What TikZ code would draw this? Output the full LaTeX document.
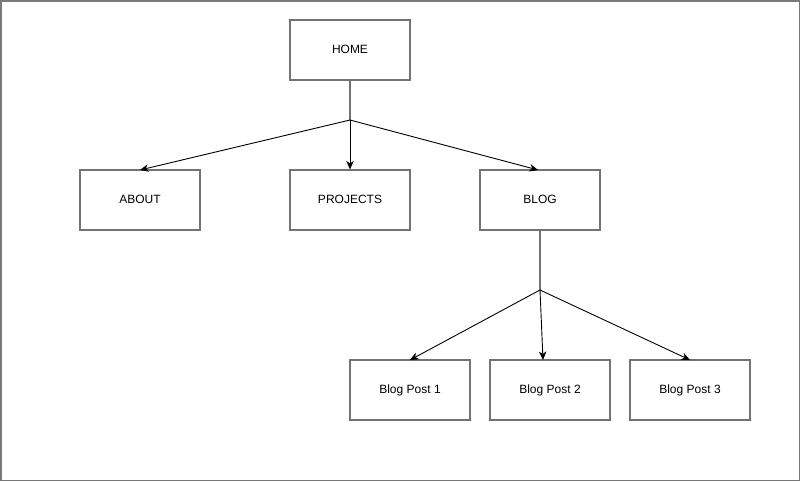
\documentclass[tikz,border=0pt]{standalone}
\usepackage{fontspec}
\setmainfont{Liberation Sans}
\usetikzlibrary{arrows.meta}
\begin{document}
\begin{tikzpicture}[x=1pt,y=-1pt,
  page/.style={draw=black!52,line width=1.6pt},
  pagebox/.style={draw=black!55,line width=1.2pt,fill=white,minimum width=120pt,minimum height=60pt,inner sep=0pt,
    text height=9pt,text depth=3pt,font=\fontsize{12}{14}\selectfont},
  stub/.style={draw=black!55,line width=1.1pt},
  link/.style={draw=black,line width=0.9pt,-{Stealth[length=8.5pt,width=7.5pt,inset=2.5pt]}}]
\useasboundingbox (0,0) rectangle (801,482);
\draw[page] (0.8,0.8) rectangle (799.5,480.3);
% site map boxes
\node[pagebox] (home) at (350,50) {HOME};
\node[pagebox] (about) at (140,200) {ABOUT};
\node[pagebox] (projects) at (350,200) {PROJECTS};
\node[pagebox] (blog) at (540,200) {BLOG};
\node[pagebox] (post1) at (410,390) {Blog Post 1};
\node[pagebox] (post2) at (550,390) {Blog Post 2};
\node[pagebox] (post3) at (690,390) {Blog Post 3};
% branch points
\coordinate (j1) at (350,120);
\coordinate (j2) at (540,290);
\coordinate (t1) at (140,170);
\coordinate (t2) at (538,170);
\coordinate (t3) at (410,360);
\coordinate (t4) at (543,360);
\coordinate (t5) at (690,360);
\draw[stub] (home.south) -- (j1);
\draw[stub] (blog.south) -- (j2);
\draw[link] (j1) -- (t1);
\draw[link] (j1) -- (projects.north);
\draw[link] (j1) -- (t2);
\draw[link] (j2) -- (t3);
\draw[link] (j2) -- (t4);
\draw[link] (j2) -- (t5);
\end{tikzpicture}
\end{document}
